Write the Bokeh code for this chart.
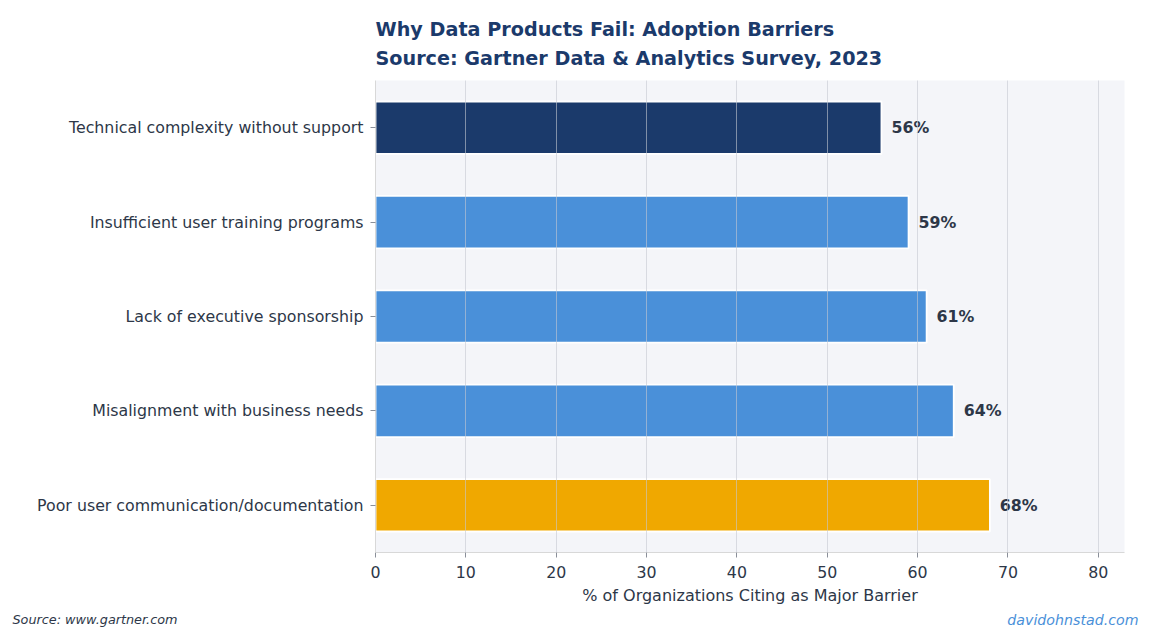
from bokeh.plotting import figure
from bokeh.layouts import column
from bokeh.models import ColumnDataSource, Range1d, FactorRange, Label, FixedTicker
from bokeh.core.properties import value
from bokeh.embed import file_html
from bokeh.resources import INLINE

# ---- data (top to bottom as shown) ----
barriers = [
    "Technical complexity without support",
    "Insufficient user training programs",
    "Lack of executive sponsorship",
    "Misalignment with business needs",
    "Poor user communication/documentation",
]
percent = [56, 59, 61, 64, 68]
bar_colors = ["#1b3a6b", "#4a90d9", "#4a90d9", "#4a90d9", "#f0a800"]
x_ticks = [0, 10, 20, 30, 40, 50, 60, 70, 80]

title_1 = "Why Data Products Fail: Adoption Barriers"
title_2 = "Source: Gartner Data & Analytics Survey, 2023"
x_label = "% of Organizations Citing as Major Barrier"
footer_left = "Source: www.gartner.com"
footer_right = "davidohnstad.com"

FONT = "DejaVu Sans"
TEXT = "#2d3748"
TCOL = "#1b3a6b"
W = 1150
FL, FR = 375, 1124          # frame left/right in page pixels
HEAD_H = 80                 # header strip (titles)
MAIN_H = 530                # chart: frame (472) + bottom axis area
FOOT_H = 24                 # footer strip


def strip(height):
    f = figure(width=W, height=height, x_range=Range1d(0, 1), y_range=Range1d(0, 1),
               output_backend="svg", toolbar_location=None,
               min_border=0, min_border_left=0, min_border_right=0,
               min_border_top=0, min_border_bottom=0)
    try:
        f.frame_align = False
    except Exception:
        pass
    f.axis.visible = False
    f.grid.visible = False
    f.outline_line_color = None
    f.background_fill_color = "white"
    f.border_fill_color = "white"
    return f


# ---- header with the two title lines ----
head = strip(HEAD_H)
head.add_layout(Label(x=FL, y=HEAD_H - 29, x_units="screen", y_units="screen",
                      text=title_1, text_font=FONT, text_font_size="19.2px",
                      text_font_style="bold", text_color=TCOL,
                      text_baseline="alphabetic"))
head.add_layout(Label(x=FL, y=HEAD_H - 58, x_units="screen", y_units="screen",
                      text=title_2, text_font=FONT, text_font_size="19.2px",
                      text_font_style="bold", text_color=TCOL,
                      text_baseline="alphabetic"))

# ---- main chart ----
src = ColumnDataSource(dict(
    cat=barriers,
    val=percent,
    color=bar_colors,
    lab=[f"{v}%" for v in percent],
    lx=[v + 1.1 for v in percent],
))

p = figure(
    width=W, height=MAIN_H,
    y_range=FactorRange(factors=list(reversed(barriers))),
    x_range=Range1d(0, 82.9),
    output_backend="svg", toolbar_location=None,
    min_border_left=FL, min_border_right=W - FR,
    min_border_top=0, min_border_bottom=MAIN_H - 472,
)
try:
    p.frame_align = False
except Exception:
    pass
p.background_fill_color = "#f4f5f9"
p.border_fill_color = "white"
p.outline_line_color = None

p.hbar(y="cat", right="val", left=0, height=0.555, source=src,
       fill_color="color", line_color="white", line_width=1.8)

p.text(x="lx", y="cat", text="lab", source=src,
       text_font=value(FONT), text_font_size="15.8px", text_font_style="bold",
       text_color=TEXT, text_baseline="middle", text_align="left")

p.ygrid.grid_line_color = None
p.xgrid.grid_line_color = "#c4c8d0"
p.xgrid.grid_line_alpha = 0.6
p.xgrid.level = "annotation"
p.xaxis.ticker = FixedTicker(ticks=x_ticks)

for ax in (p.xaxis, p.yaxis):
    ax.axis_line_color = "#d8d8d8"
    ax.major_tick_line_color = "#8a8f99"
    ax.major_tick_out = 5
    ax.major_tick_in = 0
    ax.minor_tick_line_color = None
    ax.major_label_text_font = FONT
    ax.major_label_text_font_size = "15.8px"
    ax.major_label_text_color = TEXT

p.yaxis.major_label_standoff = 7
p.xaxis.major_label_standoff = 8
p.xaxis.axis_label = x_label
p.xaxis.axis_label_text_font = FONT
p.xaxis.axis_label_text_font_size = "16px"
p.xaxis.axis_label_text_font_style = "normal"
p.xaxis.axis_label_text_color = TEXT
p.xaxis.axis_label_standoff = 5

# ---- footer ----
foot = strip(FOOT_H)
foot.add_layout(Label(x=12, y=FOOT_H - 9, x_units="screen", y_units="screen",
                      text=footer_left, text_font=FONT, text_font_size="12.8px",
                      text_font_style="italic", text_color=TEXT,
                      text_baseline="alphabetic"))
foot.add_layout(Label(x=1138, y=FOOT_H - 9, x_units="screen", y_units="screen",
                      text=footer_right, text_font=FONT, text_font_size="14.2px",
                      text_font_style="italic", text_color="#4a90d9",
                      text_align="right", text_baseline="alphabetic"))

layout = column(head, p, foot, spacing=0)
open("out.html", "w").write(file_html(layout, INLINE))
